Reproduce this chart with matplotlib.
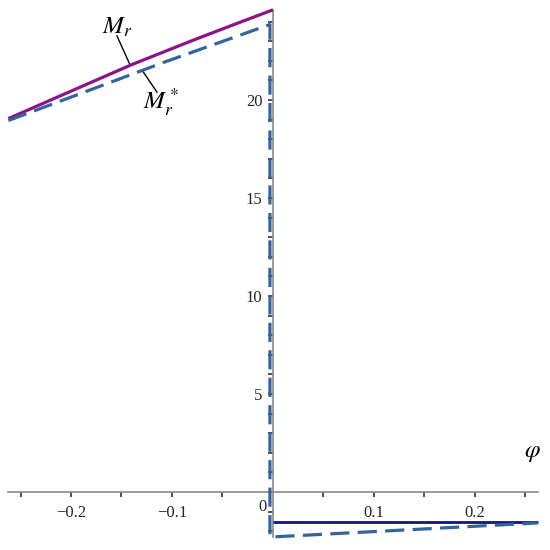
import matplotlib
matplotlib.use("Agg")
import matplotlib.pyplot as plt
from matplotlib.ticker import FixedLocator, FuncFormatter

# ---- data ----
phi_left = [-0.262, -0.2, -0.14, -0.08, -0.04, 0.0]
Mr_left = [19.05, 20.45, 21.8, 23.03, 23.82, 24.6]

phi_star = [-0.262, -0.107, -0.003, -0.003, 0.262]
Mr_star = [18.95, 21.94, 23.85, -2.3, -1.58]

phi_right = [0.0, 0.262]
Mr_right = [-1.53, -1.53]

x_major = [-0.2, -0.1, 0.1, 0.2]
x_minor = [-0.25, -0.15, -0.05, 0.05, 0.15, 0.25]
y_major = [5, 10, 15, 20]
y_minor = [v for v in range(-2, 25) if v not in (0, 5, 10, 15, 20)]

plt.rcParams['mathtext.fontset'] = 'stix'

fig = plt.figure(figsize=(5.5, 5.5), dpi=100)
ax = fig.add_axes([0, 0, 1, 1])
ax.set_xlim(-0.2703, 0.2743)
ax.set_ylim(-2.96, 25.10)

ax.plot(phi_left, Mr_left, color='#8e1389', lw=2.3, solid_capstyle='butt', zorder=3)
ax.plot(phi_right, Mr_right, color='#14147a', lw=2.0, solid_capstyle='butt', zorder=3)
ax.plot(phi_star, Mr_star, color='#33649e', lw=2.3, dashes=(6.0, 2.6), zorder=4)

# axes through origin
for s in ['top', 'right']:
    ax.spines[s].set_visible(False)
ax.spines['left'].set_position(('data', 0))
ax.spines['bottom'].set_position(('data', 0))
ax.spines['left'].set_bounds(-2.3, 24.6)
ax.spines['bottom'].set_bounds(-0.262, 0.262)
for s in ['left', 'bottom']:
    ax.spines[s].set_color('#8a8a8a')
    ax.spines[s].set_linewidth(1.2)
    ax.spines[s].set_zorder(2)

ax.xaxis.set_major_locator(FixedLocator(x_major))
ax.xaxis.set_minor_locator(FixedLocator(x_minor))
ax.yaxis.set_major_locator(FixedLocator(y_major))
ax.yaxis.set_minor_locator(FixedLocator(y_minor))

ax.xaxis.set_major_formatter(FuncFormatter(lambda v, p: ('%.1f' % v).replace('-', '\u2212')))
ax.yaxis.set_major_formatter(FuncFormatter(lambda v, p: '%d' % round(v)))

ax.tick_params(axis='both', which='both', direction='out', length=3.5,
               width=1.2, color='#333333', labelsize=12,
               labelcolor='#262626')
ax.tick_params(axis='x', pad=6)
ax.tick_params(axis='y', pad=4)
for lab in ax.get_xticklabels() + ax.get_yticklabels():
    lab.set_fontfamily('Liberation Serif')

ax.text(-0.0099, -0.77, '0', fontsize=12, family='Liberation Serif',
        color='#262626', ha='center', va='center')

# axis label
ax.text(0.257, 2.05, r'$\varphi$', fontsize=18, ha='center', va='center')

# curve labels with leaders
ax.text(-0.169, 23.4, r'$M_r$', fontsize=18, ha='left', va='baseline')
ax.plot([-0.1545, -0.1416], [23.27, 21.8], color='black', lw=1.0)
ax.text(-0.1285, 19.5, r'$M_r^*$', fontsize=18, ha='left', va='baseline')
ax.plot([-0.1287, -0.1149], [21.45, 20.4], color='black', lw=1.0)

fig.savefig('out.png', dpi=100)
